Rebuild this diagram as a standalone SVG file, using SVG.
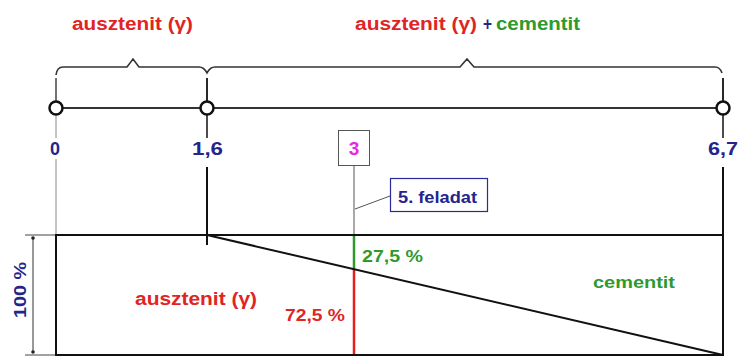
<svg xmlns="http://www.w3.org/2000/svg" width="754" height="356" viewBox="0 0 754 356">
<style>
text{font-family:"Liberation Sans",Arial,sans-serif;font-weight:bold;}
.red{fill:#e02424;}
.green{fill:#2e9a2e;}
.blue{fill:#24248c;}
.mag{fill:#e628e6;}
.thin{stroke:#8a8a8a;stroke-width:1;fill:none;}
.blk{stroke:#111;stroke-width:2;fill:none;}
.dot{fill:#fff;stroke:#111;stroke-width:2.5;}
</style>
<rect width="754" height="356" fill="#fff"/>
<g id="headers">
<text class="red" x="72" y="30" font-size="18" textLength="121" lengthAdjust="spacingAndGlyphs">ausztenit (γ)</text>
<text class="red" x="355" y="30" font-size="18" textLength="122" lengthAdjust="spacingAndGlyphs">ausztenit (γ)</text>
<text class="blue" x="483" y="30" font-size="18" textLength="9" lengthAdjust="spacingAndGlyphs">+</text>
<text class="green" x="496" y="30" font-size="18" textLength="84" lengthAdjust="spacingAndGlyphs">cementit</text>
</g>
<g id="connectors">
<path d="M56,75 Q57,67 63,67 L127,67 L133,59 L139,67 L199,67 Q204,67 207,73 Q210,67 215,67 L460,67 L467,59 L474,67 L715,67 Q720,67 722,73" fill="none" stroke="#333" stroke-width="1.6"/>
<line x1="56" y1="78" x2="56" y2="102" stroke="#444" stroke-width="1.5"/>
<line x1="207" y1="78" x2="207" y2="101" stroke="#111" stroke-width="1.8"/>
<line x1="723" y1="78" x2="723" y2="101" stroke="#111" stroke-width="1.8"/>
<line x1="56" y1="108" x2="723" y2="108" stroke="#333" stroke-width="2"/>
<line x1="56" y1="115" x2="56" y2="138" class="thin"/>
<line x1="56" y1="159" x2="56" y2="235" class="thin"/>
<line x1="207" y1="115" x2="207" y2="138" stroke="#111" stroke-width="1.5"/>
<line x1="207" y1="167" x2="207" y2="245" stroke="#111" stroke-width="2"/>
<line x1="723" y1="115" x2="723" y2="138" stroke="#111" stroke-width="1.5"/>
<line x1="723" y1="167" x2="723" y2="235" stroke="#111" stroke-width="2"/>
<line x1="354" y1="165" x2="354" y2="235" stroke="#555" stroke-width="1"/>
<line x1="355" y1="209" x2="390" y2="196" stroke="#555" stroke-width="1"/>
<line x1="354" y1="235" x2="354" y2="269" stroke="#2e9a2e" stroke-width="2.5"/>
<line x1="354" y1="269" x2="354" y2="356" stroke="#e51e1e" stroke-width="2.5"/>
<line x1="25" y1="235" x2="56" y2="235" stroke="#444" stroke-width="1"/>
<line x1="25" y1="355" x2="56" y2="355" stroke="#444" stroke-width="1"/>
<line x1="33" y1="238" x2="33" y2="352" stroke="#333" stroke-width="1"/>
<circle cx="33" cy="238" r="1.8" fill="#222"/>
<circle cx="33" cy="352" r="1.8" fill="#222"/>
</g>
<g id="chart">
<rect x="56" y="235" width="667" height="120" class="blk"/>
<line x1="207" y1="235" x2="723" y2="355" stroke="#111" stroke-width="2"/>
</g>
<g id="p0">
<circle cx="56" cy="108" r="6.5" class="dot"/>
<text class="blue" x="55" y="155" font-size="18" text-anchor="middle">0</text>
</g>
<g id="p16">
<circle cx="207" cy="108" r="6.5" class="dot"/>
<text class="blue" x="192" y="155" font-size="18" textLength="31" lengthAdjust="spacingAndGlyphs">1,6</text>
</g>
<g id="p67">
<circle cx="723" cy="108" r="6.5" class="dot"/>
<text class="blue" x="708" y="155" font-size="18" textLength="30" lengthAdjust="spacingAndGlyphs">6,7</text>
</g>
<g id="p3">
<rect x="338.5" y="130.5" width="31" height="35" fill="#fff" stroke="#555" stroke-width="1"/>
<text class="mag" x="354" y="155" font-size="19" text-anchor="middle">3</text>
</g>
<g id="feladat">
<rect x="390.5" y="178.5" width="97" height="33" fill="#fff" stroke="#2a2a9a" stroke-width="1.2"/>
<text class="blue" x="398" y="203" font-size="16" textLength="79" lengthAdjust="spacingAndGlyphs">5. feladat</text>
</g>
<g id="labels">
<text class="green" x="362" y="262" font-size="16" textLength="61" lengthAdjust="spacingAndGlyphs">27,5 %</text>
<text class="red" x="285" y="321" font-size="16" textLength="60" lengthAdjust="spacingAndGlyphs">72,5 %</text>
<text class="red" x="135" y="305" font-size="18" textLength="122" lengthAdjust="spacingAndGlyphs">ausztenit (γ)</text>
<text class="green" x="593" y="288" font-size="17" textLength="82" lengthAdjust="spacingAndGlyphs">cementit</text>
<text class="blue" transform="translate(26,290) rotate(-90)" x="0" y="0" font-size="16" text-anchor="middle" textLength="56" lengthAdjust="spacingAndGlyphs">100 %</text>
</g>
</svg>
